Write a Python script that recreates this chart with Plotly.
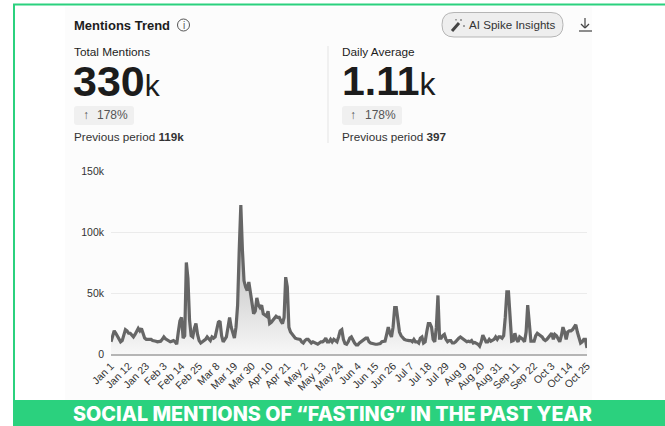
import pandas as pd
import plotly.graph_objects as go

tick_labels = ["Jan 1","Jan 12","Jan 23","Feb 3","Feb 14","Feb 25","Mar 8","Mar 19","Mar 30","Apr 10",
               "Apr 21","May 2","May 13","May 24","Jun 4","Jun 15","Jun 26","Jul 7","Jul 18","Jul 29",
               "Aug 9","Aug 20","Aug 31","Sep 11","Sep 22","Oct 3","Oct 14","Oct 25"]
y_tick_values = [0, 50000, 100000, 150000]
y_tick_labels = ["0", "50k", "100k", "150k"]

# daily mentions in thousands, one row per x tick interval
mentions_k = [
    10,15,19,17,15,12,10,11,15,20,19,
    17,17,15,14,16,18,21,19,21,17,13,
    12,12,12.5,12,11,11,10.5,10,10,10.5,12,
    14,12.5,11.5,11,10,10.5,11,10,8,18,27,
    30,13,15,75,62,28,15,14,21,25,16,
    11,9,10,11,12,14,12.5,11,14,13,14,
    20,26,27,15,10,12,14,22,30,22,17,
    13,22,40,85,122,85,60,55,52,59,50,
    42,33,35,46,40,38,40,33,32,31,35,
    25,26,28,30,31,30,30,27,25,30,63,
    55,22,18,16,14,13,12.5,12,12,10,9,
    11,12,12,10,9,10,9.5,9,8,9,10,
    10,11,13,10,10,12,10,12,11,10,14,
    19,20,12,8.5,8,10,13,14,11,9,7.5,
    7.5,9,10,11,12,13,13,10,9,8.5,8.5,
    8,8,8,8.5,10,10,10.5,16,22,17,14,
    22,38,38,25,18,15,13,12,11.5,11,11,
    11,10,12,10,10,9,13,14,9,10,18,
    25,25,22,12,10,22,48,13,13,15,16,
    12,10,11,11,9,9,10,12,13,14,13,
    12,11,10,10.5,10,11,9,9.5,9,8,6.5,
    10,15.5,13,10,10,12,10.5,11,12,14,12,
    14,14,13,15,30,51,51,30,10.5,11,17,
    12,10,14,13,12,10,18,40,22,10.5,10.5,
    10.5,15,17,16,15,14,12,11,12,14,16,
    17,12,16,15,13,10,15,22,18,12,18,
    19,19,20,22,24,18,13,9,10,12,12,
    5,
]

days = pd.date_range("2023-01-01", periods=len(mentions_k), freq="D")
values = [v * 1000 for v in mentions_k]
tick_dates = list(days[::11])

PLOT_L, PLOT_R, PLOT_T, PLOT_B = 111, 587, 171, 354
W, H = 665, 426
def px(x): return (x - PLOT_L) / (PLOT_R - PLOT_L)
def py(y): return (PLOT_B - y) / (PLOT_B - PLOT_T)

FONT = "Liberation Sans"
DARK = "#1c1c1c"

fig = go.Figure(go.Scatter(
    x=days, y=values, mode="lines",
    line=dict(color="#666666", width=3.2),
    fill="tozeroy",
    fillgradient=dict(type="vertical", colorscale=[[0, "#f7f7f7"], [1, "#a8a8a8"]]),
    hoverinfo="skip", showlegend=False,
))

shapes = []
def rect(x0, y0, x1, y1, fill, line=None, layer="below", width=1):
    shapes.append(dict(type="rect", xref="paper", yref="paper", x0=px(x0), x1=px(x1), y0=py(y0), y1=py(y1),
                       fillcolor=fill, line=dict(color=line or fill, width=width if line else 0), layer=layer))
def seg(x0, y0, x1, y1, color, width=1):
    shapes.append(dict(type="line", xref="paper", yref="paper", x0=px(x0), x1=px(x1), y0=py(y0), y1=py(y1),
                       line=dict(color=color, width=width), layer="above"))
def pill(x0, y0, x1, y1, r, fill, line=None):
    X0, X1, Y0, Y1 = px(x0), px(x1), py(y0), py(y1)
    rx, ry = r / (PLOT_R - PLOT_L), r / (PLOT_B - PLOT_T)
    path = (f"M {X0+rx} {Y0} L {X1-rx} {Y0} Q {X1} {Y0} {X1} {Y0-ry} L {X1} {Y1+ry} Q {X1} {Y1} {X1-rx} {Y1} "
            f"L {X0+rx} {Y1} Q {X0} {Y1} {X0} {Y1+ry} L {X0} {Y0-ry} Q {X0} {Y0} {X0+rx} {Y0} Z")
    shapes.append(dict(type="path", xref="paper", yref="paper", path=path, fillcolor=fill,
                       line=dict(color=line or fill, width=1 if line else 0), layer="below"))

GREEN = "#2bd17e"
rect(0, 0, W, H, "#ffffff")
rect(65, 7, 592, 400, "#fcfcfc")
seg(13, 4.5, W, 4.5, GREEN, 2)
seg(14, 4, 14, 400, GREEN, 2)
rect(13, 400, W, H, GREEN)

# stat cards
seg(328, 46, 328, 143, "#e4e4e4", 1)
pill(74, 106, 134, 125, 3, "#f0f0f0")
pill(342, 106, 402, 125, 3, "#f0f0f0")
# AI pill and icons
pill(442, 12.5, 563, 37, 12, "#eeeeee", "#b5b5b5")
shapes.append(dict(type="circle", xref="paper", yref="paper", x0=px(177.5), x1=px(189.5), y0=py(19), y1=py(31),
                   line=dict(color="#555555", width=1), fillcolor="rgba(0,0,0,0)"))
seg(452, 31, 459, 23, "#444444", 3)
seg(461, 19, 461, 21, "#555555", 1)
seg(464, 25, 464, 27, "#555555", 1)
seg(456, 19, 456, 20.5, "#555555", 1)
seg(585, 18, 585, 28, "#444444", 1.2)
seg(581, 24, 585, 28, "#444444", 1.2)
seg(589, 24, 585, 28, "#444444", 1.2)
seg(579, 31, 592, 31, "#444444", 1.2)

def text(x, y, s, size, color=DARK, anchor="left", family=FONT, weight=None):
    font = dict(family=family, size=size, color=color)
    if weight:
        font["weight"] = weight
    return dict(xref="paper", yref="paper", x=px(x), y=py(y), xanchor=anchor, yanchor="middle", text=s,
                showarrow=False, align=anchor, borderpad=0, borderwidth=0, font=font)

annotations = [
    text(74, 25, "<b>Mentions Trend</b>", 13),
    text(183.5, 25, "i", 10, "#555555", "center"),
    text(74, 52, "Total Mentions", 11.8),
    text(73, 81, "<b>330</b><span style='font-size:30px'>k</span>", 43),
    text(83, 115, "↑", 12, "#555555"),
    text(97, 115, "178%", 12, "#555555"),
    text(74, 136, "Previous period <b>119k</b>", 11.7, "#333333"),
    text(342, 52, "Daily Average", 11.8),
    text(342, 81, "<b>1.11</b><span style='font-size:32px'>k</span>", 41),
    text(350, 115, "↑", 12, "#555555"),
    text(365, 115, "178%", 12, "#555555"),
    text(342, 136, "Previous period <b>397</b>", 11.7, "#333333"),
    text(469, 24.5, "AI Spike Insights", 11.6, "#333333"),
    text(332.5, 414, "“FASTING”".join(["SOCIAL MENTIONS OF ", " IN THE PAST YEAR"]), 19.8, "#ffffff", "center", "Inter", 800),
]

fig.update_layout(
    width=W, height=H, autosize=False,
    margin=dict(l=PLOT_L, r=W - PLOT_R, t=PLOT_T, b=H - PLOT_B, pad=0),
    paper_bgcolor="#ffffff", plot_bgcolor="rgba(0,0,0,0)",
    shapes=shapes, annotations=annotations,
    font=dict(family=FONT, color="#333333", size=11),
    xaxis=dict(type="date", range=[days[0], days[-1]], tickmode="array", tickvals=tick_dates, ticktext=tick_labels,
               tickangle=-45, showgrid=False, ticks="", showline=True, linecolor="#b5b5b5", linewidth=1.5,
               tickfont=dict(size=10.5, color="#333333"), zeroline=False),
    yaxis=dict(range=[0, 150000], tickmode="array", tickvals=y_tick_values, ticktext=y_tick_labels,
               showgrid=True, gridcolor="#ebebeb", gridwidth=1, zeroline=False, showline=False, ticks="",
               ticklabelstandoff=6, tickfont=dict(size=10.5, color="#333333")),
)
fig.write_html("out.html", config={"displayModeBar": False},
               post_script="document.body.style.margin='0';document.body.style.overflow='hidden';")
